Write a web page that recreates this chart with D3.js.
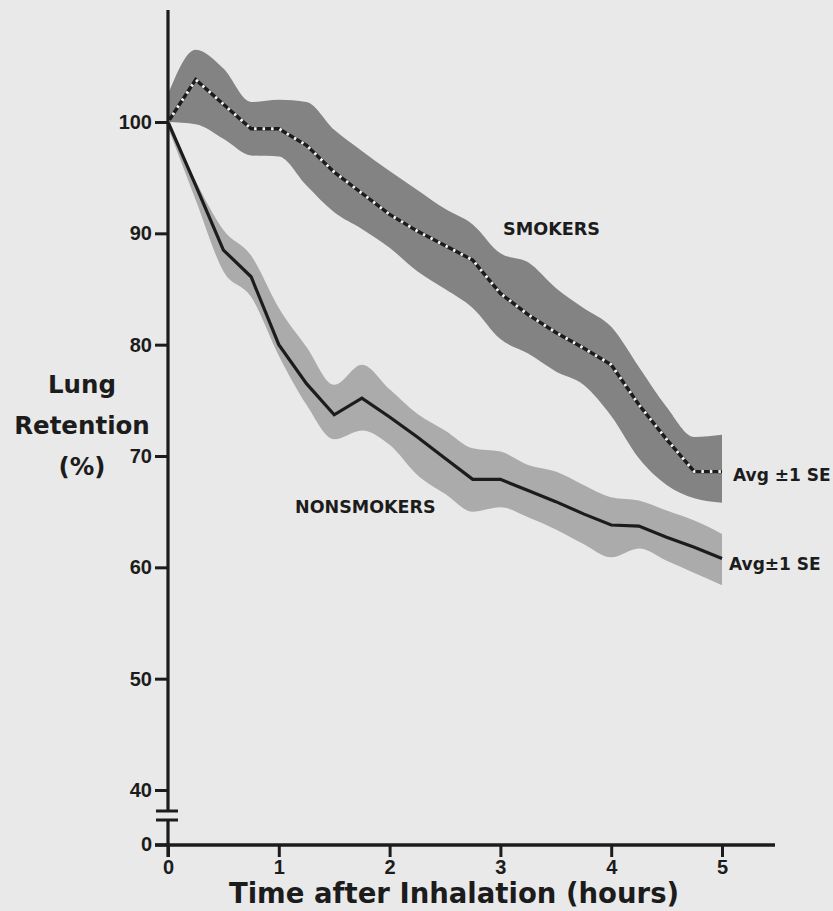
<!DOCTYPE html>
<html><head><meta charset="utf-8">
<script src="https://cdn.jsdelivr.net/npm/d3@7/dist/d3.min.js"></script>
<style>body{margin:0;background:#e8e8e8}</style>
</head><body>
<svg id="c" width="833" height="911"></svg>
<script>
// ---- data ----
const times = [0,0.25,0.5,0.75,1,1.25,1.5,1.75,2,2.25,2.5,2.75,3,3.25,3.5,3.75,4,4.25,4.5,4.75,5];
const smokersAvg   = [100,103.8,101.6,99.4,99.4,97.9,95.5,93.6,91.7,90.2,88.9,87.6,84.6,82.7,81.1,79.7,78.2,74.6,71.5,68.6,68.6];
const smokersHigh  = [102.5,106.5,104.8,101.8,102.0,101.8,99.3,97.4,95.6,93.9,92.2,90.8,88.2,87.4,85.1,83.3,81.6,78.0,74.4,71.7,71.9];
const smokersLow   = [100,99.8,98.5,97.0,96.9,94.3,91.9,90.4,88.7,86.6,85.0,83.3,80.5,79.2,77.6,76.4,73.6,69.8,67.4,66.2,65.8];
const nonAvg       = [100,94.3,88.5,86.1,80.0,76.5,73.7,75.2,73.5,71.7,69.8,67.9,67.9,66.9,65.9,64.8,63.8,63.7,62.7,61.8,60.8];
const nonHigh      = [100,94.7,90.3,88.0,83.3,79.8,76.4,78.2,76.0,73.8,72.3,70.7,70.4,69.2,68.6,67.4,66.3,66.0,65.1,64.2,63.0];
const nonLow       = [99.5,93.0,86.6,84.3,79.0,74.6,71.5,72.3,71.0,68.3,66.6,65.0,65.4,64.5,63.4,62.1,60.9,61.7,60.6,59.5,58.4];
const yTicks = [40,50,60,70,80,90,100];
const yBreakTick = 0;
const xTicks = [0,1,2,3,4,5];
const xTitle = "Time after Inhalation (hours)";
const yTitle = ["Lung","Retention","(%)"];

// ---- drawing ----
const svg = d3.select('#c');
svg.append('rect').attr('width',833).attr('height',911).attr('fill','#e9e9e9');

const x = d3.scaleLinear().domain([0,5]).range([168,722]);
const y = d3.scaleLinear().domain([40,100]).range([790,122]);
const yZero = 845;
const ink = '#1c1c1c';
const font = "'Liberation Sans', Arial, sans-serif";
const wfont = "'DejaVu Sans', sans-serif";

function band(hi, lo){
  return d3.area().x((d,i)=>x(times[i])).y0((d,i)=>y(lo[i])).y1((d,i)=>y(hi[i])).curve(d3.curveMonotoneX)(times);
}
const line = arr => d3.line().x((d,i)=>x(times[i])).y((d,i)=>y(arr[i]))(times);

svg.append('path').attr('d', band(nonHigh, nonLow)).attr('fill','#ababab');
svg.append('path').attr('d', band(smokersHigh, smokersLow)).attr('fill','#838383');

svg.append('path').attr('d', line(nonAvg)).attr('fill','none').attr('stroke',ink).attr('stroke-width',3.2).attr('stroke-linejoin','miter');
svg.append('path').attr('d', line(smokersAvg)).attr('fill','none').attr('stroke',ink).attr('stroke-width',3.4);
svg.append('path').attr('d', line(smokersAvg)).attr('fill','none').attr('stroke','#f2f2f2').attr('stroke-width',3).attr('stroke-dasharray','2.5,6');

// y axis
const ax = x(0);
svg.append('line').attr('x1',ax).attr('x2',ax).attr('y1',10).attr('y2',811).attr('stroke',ink).attr('stroke-width',3.2);
svg.append('line').attr('x1',ax).attr('x2',ax).attr('y1',820).attr('y2',yZero+12).attr('stroke',ink).attr('stroke-width',3.2);
// break marks
[811,820].forEach(b=>svg.append('line').attr('x1',ax-12).attr('x2',ax+10).attr('y1',b).attr('y2',b).attr('stroke',ink).attr('stroke-width',3));

const yAxis = svg.append('g').attr('transform',`translate(${ax},0)`)
  .call(d3.axisLeft(y).tickValues(yTicks).tickSize(13).tickPadding(3).tickFormat(d3.format('d')));
yAxis.select('.domain').remove();
yAxis.selectAll('.tick line').attr('stroke',ink).attr('stroke-width',3);
yAxis.selectAll('.tick text').attr('fill',ink).style('font-family',font).style('font-weight','bold').style('font-size','20px');
// zero tick (below break)
svg.append('line').attr('x1',ax-13).attr('x2',ax).attr('y1',yZero).attr('y2',yZero).attr('stroke',ink).attr('stroke-width',3);
svg.append('text').attr('x',ax-16).attr('y',yZero).attr('dy','0.32em').attr('text-anchor','end').attr('fill',ink)
  .style('font-family',font).style('font-weight','bold').style('font-size','20px').text(yBreakTick);

// x axis
svg.append('line').attr('x1',ax-13).attr('x2',775).attr('y1',yZero).attr('y2',yZero).attr('stroke',ink).attr('stroke-width',3.4);
const xAxis = svg.append('g').attr('transform',`translate(0,${yZero})`)
  .call(d3.axisBottom(x).tickValues(xTicks).tickSize(12).tickPadding(3).tickFormat(d3.format('d')));
xAxis.select('.domain').remove();
xAxis.selectAll('.tick line').attr('stroke',ink).attr('stroke-width',3);
xAxis.selectAll('.tick text').attr('fill',ink).style('font-family',font).style('font-weight','bold').style('font-size','20px');

// titles
svg.append('text').attr('x',454).attr('y',903).attr('text-anchor','middle').attr('fill',ink)
  .style('font-family',wfont).style('font-weight','bold').style('font-size','27.5px').text(xTitle);
const yt = [393,434,475];
yTitle.forEach((t,i)=>svg.append('text').attr('x',82).attr('y',yt[i]).attr('text-anchor','middle').attr('fill',ink)
  .style('font-family',wfont).style('font-weight','bold').style('font-size','24.5px').text(t));

// series labels
const lab = (tx,xx,yy,size)=>svg.append('text').attr('x',xx).attr('y',yy).attr('fill',ink)
  .style('font-family',wfont).style('font-weight','bold').style('font-size',size+'px').text(tx);
lab('SMOKERS',503,235,17.6);
lab('NONSMOKERS',295,513,17.5);
lab('Avg \u00b11 SE',733,481,17);
lab('Avg\u00b11 SE',729,570,17);
</script>
</body></html>
